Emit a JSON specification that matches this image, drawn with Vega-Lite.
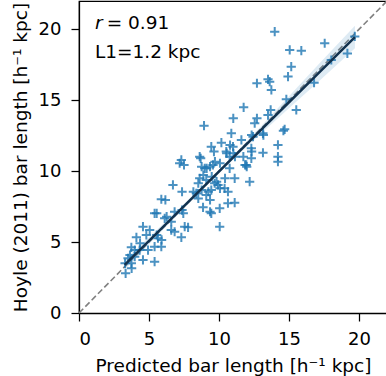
{
  "$schema": "https://vega.github.io/schema/vega-lite/v6.json",
  "width": 308,
  "height": 312,
  "autosize": {"type": "none"},
  "padding": {"left": 79, "top": 1, "right": 0, "bottom": 63},
  "background": "white",
  "config": {
    "view": {"stroke": "black", "strokeWidth": 1.25},
    "axis": {
      "grid": false,
      "labelFont": "DejaVu Sans",
      "titleFont": "DejaVu Sans",
      "labelFontSize": 18,
      "titleFontSize": 18.5,
      "titleFontWeight": "normal",
      "labelColor": "black",
      "titleColor": "black",
      "domainColor": "black",
      "tickColor": "black",
      "domainWidth": 1.25,
      "tickWidth": 1.25,
      "tickSize": 8
    },
    "text": {"font": "DejaVu Sans", "fontSize": 18.5}
  },
  "datasets": {
    "pts": [
      {"x": 13.98, "y": 19.84}, {"x": 17.55, "y": 19.02}, {"x": 15.05, "y": 18.55}, {"x": 15.88, "y": 18.5},
      {"x": 19.7, "y": 19.5}, {"x": 19.17, "y": 18.3}, {"x": 18.02, "y": 17.84}, {"x": 15.16, "y": 17.37},
      {"x": 14.93, "y": 16.67}, {"x": 13.5, "y": 16.48}, {"x": 13.62, "y": 16.31}, {"x": 12.71, "y": 16.2},
      {"x": 13.74, "y": 15.73}, {"x": 16.79, "y": 16.24}, {"x": 14.81, "y": 15.07}, {"x": 11.76, "y": 14.5},
      {"x": 13.69, "y": 14.32}, {"x": 15.52, "y": 14.32}, {"x": 12.71, "y": 13.73}, {"x": 11.02, "y": 13.73},
      {"x": 13.5, "y": 13.96}, {"x": 8.93, "y": 13.21}, {"x": 12.55, "y": 13.38}, {"x": 14.69, "y": 12.95},
      {"x": 14.6, "y": 12.85}, {"x": 10.88, "y": 12.67}, {"x": 13.14, "y": 12.67}, {"x": 12.43, "y": 12.43},
      {"x": 11.6, "y": 12.2}, {"x": 14.21, "y": 11.85}, {"x": 10.17, "y": 12.01}, {"x": 9.45, "y": 11.73},
      {"x": 11.0, "y": 11.73}, {"x": 9.64, "y": 11.38}, {"x": 10.52, "y": 11.38}, {"x": 12.31, "y": 11.61},
      {"x": 13.14, "y": 11.3}, {"x": 14.21, "y": 11.02}, {"x": 7.31, "y": 10.79}, {"x": 8.62, "y": 11.02},
      {"x": 7.19, "y": 10.56}, {"x": 7.5, "y": 10.44}, {"x": 8.69, "y": 10.91}, {"x": 8.98, "y": 10.2},
      {"x": 9.57, "y": 10.44}, {"x": 10.76, "y": 11.02}, {"x": 10.76, "y": 10.2}, {"x": 11.95, "y": 10.44},
      {"x": 12.31, "y": 10.91}, {"x": 14.21, "y": 10.67}, {"x": 6.71, "y": 9.03}, {"x": 7.36, "y": 8.55},
      {"x": 8.62, "y": 9.5}, {"x": 9.09, "y": 9.38}, {"x": 9.69, "y": 9.15}, {"x": 9.93, "y": 9.03},
      {"x": 10.4, "y": 8.79}, {"x": 11.12, "y": 9.5}, {"x": 12.19, "y": 9.26}, {"x": 10.64, "y": 8.55},
      {"x": 9.45, "y": 8.67}, {"x": 8.38, "y": 8.44}, {"x": 9.09, "y": 8.32}, {"x": 5.88, "y": 8.02},
      {"x": 6.17, "y": 7.97}, {"x": 5.4, "y": 7.03}, {"x": 6.83, "y": 7.14}, {"x": 7.36, "y": 7.26},
      {"x": 8.86, "y": 7.45}, {"x": 9.45, "y": 7.03}, {"x": 10.05, "y": 7.38}, {"x": 10.64, "y": 7.74},
      {"x": 11.12, "y": 7.78}, {"x": 6.12, "y": 6.68}, {"x": 6.59, "y": 6.44}, {"x": 4.57, "y": 6.09},
      {"x": 5.05, "y": 5.85}, {"x": 6.59, "y": 5.85}, {"x": 6.83, "y": 5.73}, {"x": 7.55, "y": 6.09},
      {"x": 7.79, "y": 6.04}, {"x": 10.05, "y": 6.09}, {"x": 7.31, "y": 5.34}, {"x": 4.1, "y": 5.34},
      {"x": 4.81, "y": 5.5}, {"x": 5.64, "y": 5.27}, {"x": 5.88, "y": 4.68}, {"x": 5.4, "y": 4.68},
      {"x": 3.74, "y": 4.63}, {"x": 3.98, "y": 4.44}, {"x": 4.33, "y": 4.44}, {"x": 4.93, "y": 4.44},
      {"x": 3.98, "y": 3.97}, {"x": 3.5, "y": 3.86}, {"x": 4.57, "y": 3.74}, {"x": 5.4, "y": 3.62},
      {"x": 3.74, "y": 3.5}, {"x": 3.33, "y": 2.8}, {"x": 4.36, "y": 4.92}, {"x": 5.55, "y": 5.5},
      {"x": 3.64, "y": 4.09}, {"x": 3.29, "y": 3.5}, {"x": 3.76, "y": 3.15}, {"x": 5.9, "y": 5.15},
      {"x": 12.33, "y": 12.55}, {"x": 10.55, "y": 11.26}, {"x": 11.14, "y": 11.02}, {"x": 12.33, "y": 11.38},
      {"x": 11.86, "y": 10.44}, {"x": 8.76, "y": 10.32}, {"x": 9.36, "y": 10.32}, {"x": 10.07, "y": 10.56},
      {"x": 8.88, "y": 9.73}, {"x": 9.48, "y": 9.61}, {"x": 10.43, "y": 9.5}, {"x": 8.52, "y": 9.15},
      {"x": 8.76, "y": 8.67}, {"x": 9.24, "y": 8.55}, {"x": 10.07, "y": 8.79}, {"x": 8.17, "y": 8.55},
      {"x": 8.52, "y": 8.08}, {"x": 9.36, "y": 7.97}, {"x": 9.36, "y": 7.14}, {"x": 7.45, "y": 7.03},
      {"x": 5.55, "y": 7.03}, {"x": 6.26, "y": 6.79}, {"x": 13.17, "y": 12.55}, {"x": 10.79, "y": 11.84},
      {"x": 11.03, "y": 11.26}, {"x": 11.74, "y": 11.02}, {"x": 9.71, "y": 10.67}, {"x": 11.98, "y": 10.32},
      {"x": 9.12, "y": 10.2}, {"x": 9.83, "y": 9.26}
    ],
    "fit": [
      {"x": 3.26, "fit": 3.39, "lo": 3.04, "hi": 3.74},
      {"x": 5, "fit": 5.09, "lo": 4.84, "hi": 5.34},
      {"x": 7, "fit": 7.04, "lo": 6.87, "hi": 7.21},
      {"x": 9, "fit": 9.0, "lo": 8.87, "hi": 9.13},
      {"x": 11, "fit": 10.95, "lo": 10.8, "hi": 11.1},
      {"x": 13, "fit": 12.91, "lo": 12.66, "hi": 13.16},
      {"x": 15, "fit": 14.86, "lo": 14.44, "hi": 15.28},
      {"x": 17, "fit": 16.81, "lo": 16.21, "hi": 17.41},
      {"x": 19.71, "fit": 19.46, "lo": 18.66, "hi": 20.26}
    ],
    "diag": [{"x": 0, "y": 0}, {"x": 22, "y": 22}],
    "notes": [
      {"label": "r", "x": 1.14, "y": 20.0, "style": "italic"},
      {"label": "= 0.91", "x": 1.98, "y": 20.0, "style": "normal"},
      {"label": "L1=1.2 kpc", "x": 1.14, "y": 17.98, "style": "normal"}
    ]
  },
  "layer": [
    {
      "data": {"name": "diag"},
      "mark": {"type": "line", "color": "#808080", "strokeWidth": 1.6, "strokeDash": [6, 3]},
      "encoding": {
        "x": {"field": "x", "type": "quantitative", "scale": {"domain": [0, 22], "nice": false},
              "axis": {"values": [0, 5, 10, 15, 20], "title": "Predicted bar length [h⁻¹ kpc]", "labelPadding": 9, "titlePadding": 8}},
        "y": {"field": "y", "type": "quantitative", "scale": {"domain": [0, 22], "nice": false},
              "axis": {"values": [0, 5, 10, 15, 20], "title": "Hoyle (2011) bar length [h⁻¹ kpc]", "labelPadding": 10, "titlePadding": 8}}
      }
    },
    {
      "data": {"name": "fit"},
      "mark": {"type": "area", "color": "#1f77b4", "opacity": 0.15},
      "encoding": {
        "x": {"field": "x", "type": "quantitative"},
        "y": {"field": "lo", "type": "quantitative"},
        "y2": {"field": "hi"}
      }
    },
    {
      "data": {"name": "pts"},
      "mark": {"type": "point", "shape": "M-1,0L1,0M0,-1L0,1", "filled": false, "size": 85, "strokeWidth": 2, "color": "#1f77b4", "opacity": 0.8},
      "encoding": {
        "x": {"field": "x", "type": "quantitative"},
        "y": {"field": "y", "type": "quantitative"}
      }
    },
    {
      "data": {"name": "fit"},
      "mark": {"type": "line", "color": "#12324f", "strokeWidth": 2.5},
      "encoding": {
        "x": {"field": "x", "type": "quantitative"},
        "y": {"field": "fit", "type": "quantitative"}
      }
    },
    {
      "data": {"name": "notes"},
      "transform": [{"filter": "datum.style === 'italic'"}],
      "mark": {"type": "text", "align": "left", "baseline": "alphabetic", "fontStyle": "italic", "color": "black"},
      "encoding": {
        "x": {"field": "x", "type": "quantitative"},
        "y": {"field": "y", "type": "quantitative"},
        "text": {"field": "label"}
      }
    },
    {
      "data": {"name": "notes"},
      "transform": [{"filter": "datum.style === 'normal'"}],
      "mark": {"type": "text", "align": "left", "baseline": "alphabetic", "color": "black"},
      "encoding": {
        "x": {"field": "x", "type": "quantitative"},
        "y": {"field": "y", "type": "quantitative"},
        "text": {"field": "label"}
      }
    }
  ]
}
